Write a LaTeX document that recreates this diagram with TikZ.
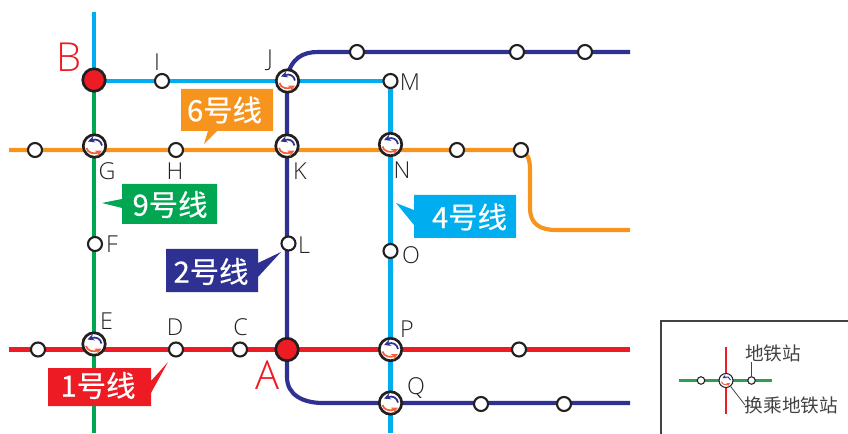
\documentclass[tikz,border=0pt]{standalone}
\usepackage{fontspec}
\setmainfont{Liberation Sans}
\newfontfamily\cjk{Noto Sans CJK SC}
\newfontfamily\cjkb[FakeBold=0.4]{Noto Sans CJK SC}
\newfontfamily\thin{Open Sans Light}
\usetikzlibrary{arrows.meta}
\definecolor{lred}{HTML}{ED1C24}
\definecolor{lgreen}{HTML}{00A651}
\definecolor{lblue}{HTML}{00AEEF}
\definecolor{lorange}{HTML}{F7941D}
\definecolor{lnavy}{HTML}{2E3192}
\definecolor{ink}{HTML}{231F20}
\definecolor{legendgreen}{HTML}{2E9E4F}
\definecolor{arrorange}{HTML}{F2603C}
\definecolor{arrnavy}{HTML}{2E3192}
\tikzset{
  x=0.75pt,y=-0.75pt,
  line/.style={line width=3.1pt},
  stn/.style={circle,draw=ink,fill=white,line width=1.6pt,minimum size=14*0.75pt,inner sep=0pt},
  xfr/.style={circle,draw=ink,fill=white,line width=2pt,minimum size=22.5*0.75pt,inner sep=0pt},
  big/.style={circle,draw=ink,fill=lred,line width=2pt,minimum size=22.5*0.75pt,inner sep=0pt},
  lbl/.style={font=\thin\fontsize{17.5}{17.5}\selectfont,text=ink,inner sep=0pt},
  biglbl/.style={font=\thin\fontsize{30}{30}\selectfont,text=lred,inner sep=0pt},
  tag/.style={font=\cjkb\fontsize{22}{22}\selectfont,text=white,inner sep=0pt},
  leg/.style={font=\cjk\fontsize{14}{14}\selectfont,text=ink!85,inner sep=0pt},
  legstn/.style={circle,draw=ink,fill=white,line width=0.8pt,minimum size=7.5*0.75pt,inner sep=0pt},
}
\newcommand{\xfer}[2]{%
  \node[xfr] (#1) at (#2) {};
  \begin{scope}[shift={(#2)}]
    \draw[arrnavy,line width=1.3pt,-{Stealth[length=5pt,width=4.8pt]}] (7.5,-.5) .. controls (6.5,-5.5) and (2,-7.5) .. (-6.5,-4.5);
    \draw[arrorange,line width=1.3pt,-{Stealth[length=5pt,width=4.8pt]}] (-8,2) .. controls (-7,7) and (0,8.5) .. (7.5,4.5);
  \end{scope}}
\begin{document}
\begin{tikzpicture}
\useasboundingbox (0,0) rectangle (848,434);
\coordinate (g0) at (94,433);
\coordinate (b0) at (94,12);
\coordinate (b1) at (390.5,433);
\coordinate (r0) at (9,349.5);
\coordinate (r1) at (630,349.5);
\coordinate (o0) at (9,150);
\coordinate (o1) at (630,230);
\coordinate (n1) at (630,52);
\coordinate (n2) at (630,403);
\path (94,80) coordinate (pB) (162,81) coordinate (pI) (287.5,81) coordinate (pJ) (390.5,81) coordinate (pM)
  (35,150) coordinate (pa) (94.5,146) coordinate (pG) (176,150) coordinate (pH) (287,146) coordinate (pK) (390.5,144.5) coordinate (pN) (457,150) coordinate (pb) (521,150) coordinate (pc)
  (95,244) coordinate (pF) (288.5,243.5) coordinate (pL) (390.5,251) coordinate (pO)
  (38,349.5) coordinate (pd) (94,344) coordinate (pE) (176,349.5) coordinate (pD) (240,349.5) coordinate (pC) (287,349.5) coordinate (pA) (390.5,349.5) coordinate (pP) (519,349.5) coordinate (pe)
  (390.5,403) coordinate (pQ) (481,404) coordinate (pf) (564,404) coordinate (pg)
  (357,52) coordinate (ph) (517,52) coordinate (pi) (585,52) coordinate (pj);
\draw[line,lblue] (b0) -- (pB);
\draw[line,lblue] (94,81) -- (pM);
\draw[line,lblue] (pM) -- (b1);
\draw[line,lgreen] (pB) -- (g0);
\draw[line,lorange] (o0) -- (pc) .. controls (527,153) and (530,158) .. (530,170) -- (530,208) .. controls (530,224) and (540,230) .. (556,230) -- (o1);
\draw[line,lnavy] (n1) -- (318,52) .. controls (303,52) and (291,58) .. (287,78) -- (287,377) .. controls (287,395) and (303,403) .. (323,403) -- (n2);
\draw[line,lred] (r0) -- (r1);
\foreach \n in {I,M,a,H,b,c,F,L,O,d,D,C,e,f,g,h,i,j} {\node[stn] (\n) at (p\n) {};}
\xfer{J}{pJ}\xfer{G}{pG}\xfer{K}{pK}\xfer{N}{pN}\xfer{E}{pE}\xfer{P}{pP}\xfer{Q}{pQ}
\node[big] (A) at (pA) {};
\node[big] (B) at (pB) {};
\node[biglbl] (tA) at (267,375) {A};
\node[biglbl] (tB) at (69,57) {B};
\node[lbl] (tI) at (157,62) {I};
\node[lbl] (tJ) at (270,60) {J};
\node[lbl] (tM) at (410,82) {M};
\node[lbl] (tG) at (107,171) {G};
\node[lbl] (tH) at (175,171) {H};
\node[lbl] (tK) at (300,171) {K};
\node[lbl] (tN) at (402,170) {N};
\node[lbl] (tF) at (112,244) {F};
\node[lbl] (tL) at (304,245) {L};
\node[lbl] (tO) at (411,255) {O};
\node[lbl] (tE) at (106.5,321) {E};
\node[lbl] (tD) at (175,327) {D};
\node[lbl] (tC) at (240.5,327) {C};
\node[lbl] (tP) at (407,329) {P};
\node[lbl] (tQ) at (416,388) {Q};
\fill[lorange] (181,89) -- (273,89) -- (273,131) -- (217,131) -- (204,144) -- (208,131) -- (181,131) -- cycle;
\node[tag] (t6) at (224.5,110) {6号线};
\fill[lred] (48,368) -- (151,368) -- (151,381) -- (168,362) -- (151,393) -- (151,406) -- (48,406) -- cycle;
\node[tag] (t1) at (98,385.5) {1号线};
\fill[lblue] (414,195) -- (516,195) -- (516,238) -- (414,238) -- (414,225) -- (396,203) -- (414,210) -- cycle;
\node[tag] (t4) at (469.5,217) {4号线};
\fill[lgreen] (122,184) -- (217,184) -- (217,224) -- (122,224) -- (122,208) -- (102,203) -- (122,199) -- cycle;
\node[tag] (t9) at (170,204.5) {9号线};
\fill[lnavy] (166,249) -- (258,249) -- (258,263) -- (281,252) -- (258,277) -- (258,292) -- (166,292) -- cycle;
\node[tag] (t2) at (211,271.5) {2号线};
\draw[ink!85,line width=0.8pt] (848,321) -- (661,321) -- (661,434);
\coordinate (lgl) at (679,380.5);
\coordinate (lgr) at (772,380.5);
\coordinate (lrt) at (726,347);
\coordinate (lrb) at (726,414);
\coordinate (lt1) at (751.5,362);
\coordinate (lt2) at (745,405);
\draw[legendgreen,line width=1.8pt] (lgl) -- (lgr);
\draw[lred,line width=1.8pt] (lrt) -- (lrb);
\node[legstn] (l1) at (701,380.5) {};
\node[legstn] (l2) at (751.5,380.5) {};
\node[circle,draw=ink,fill=white,line width=0.8pt,minimum size=14*0.75pt,inner sep=0pt] (l3) at (726,380.5) {};
\begin{scope}[shift={(726,380.5)}]
  \draw[arrnavy,line width=.7pt,-{Stealth[length=2.8pt,width=2.8pt]}] (4.5,-.5) .. controls (4,-3) and (1,-4.5) .. (-3.5,-2.5);
  \draw[arrorange,line width=.7pt,-{Stealth[length=2.8pt,width=2.8pt]}] (-4.5,1) .. controls (-4,4) and (0,5) .. (4,2.5);
\end{scope}
\node[leg] (t5) at (773,353) {地铁站};
\node[leg] (t7) at (791.5,405) {换乘地铁站};
\draw[ink!85,line width=0.6pt] (l2) -- (lt1);
\draw[ink!85,line width=0.6pt] (l3) -- (lt2);
\end{tikzpicture}
\end{document}
